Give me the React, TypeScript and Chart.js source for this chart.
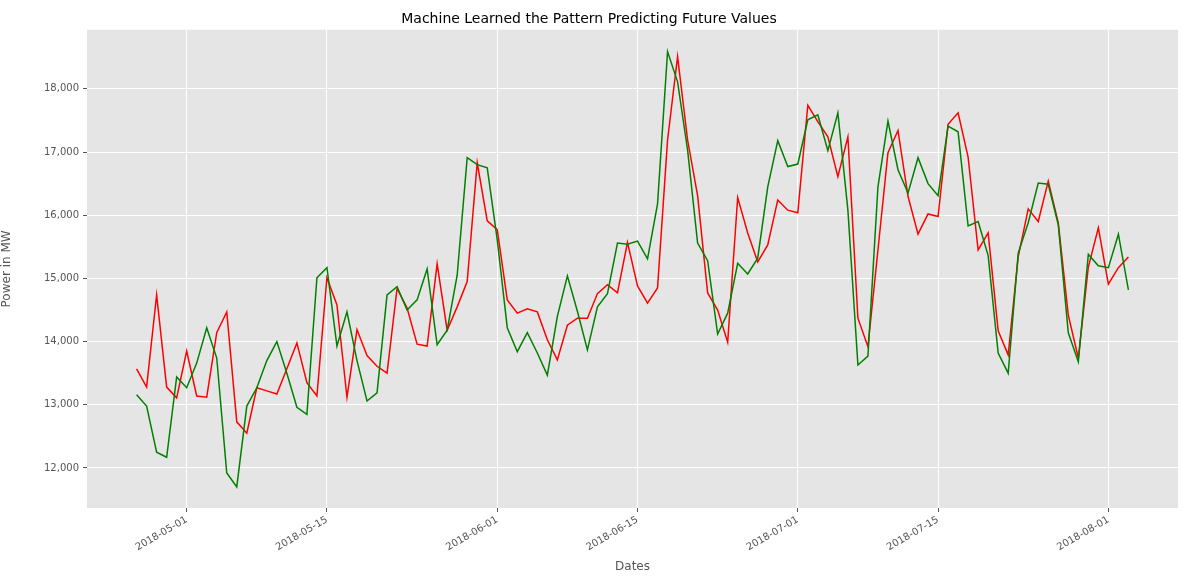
import { useEffect, useRef } from 'react';
import { Chart, registerables } from 'chart.js';

Chart.register(...registerables);

// day index 0 = 2018-04-26
const startDate = new Date(Date.UTC(2018, 3, 26));
const tickDays = [5, 19, 36, 50, 66, 80, 97];

const actualValues = [
  13160, 12980, 12250, 12170, 13440, 13270, 13660, 14220, 13740, 11920,
  11700, 12980, 13270, 13700, 14000, 13500, 12960, 12850, 15010, 15170,
  13930, 14470, 13700, 13060, 13190, 14740, 14870, 14500, 14660, 15150,
  13950, 14180, 15050, 16910, 16800, 16750, 15610, 14220, 13840, 14140,
  13820, 13470, 14400, 15040, 14480, 13870, 14550, 14760, 15560, 15540,
  15590, 15310, 16180, 18590, 18110, 17030, 15560, 15280, 14120, 14450,
  15240, 15070, 15320, 16450, 17180, 16770, 16810, 17510, 17590, 17020,
  17620, 16080, 13630, 13770, 16450, 17490, 16720, 16350, 16910, 16500,
  16310, 17410, 17320, 15830, 15900, 15360, 13820, 13500, 15400, 15880,
  16510, 16490, 15850, 14140, 13680, 15380, 15200, 15170, 15700, 14820,
];

const predictedValues = [
  13570, 13280, 14740, 13280, 13110, 13850, 13140, 13120, 14140, 14470,
  12730, 12550, 13270, 13220, 13170, 13570, 13980, 13350, 13140, 15010,
  14580, 13120, 14190, 13780, 13610, 13500, 14840, 14530, 13960, 13930,
  15230, 14180, 14550, 14950, 16830, 15910, 15770, 14660, 14450, 14520,
  14470, 14030, 13710, 14260, 14370, 14370, 14760, 14900, 14770, 15570,
  14880, 14610, 14850, 17190, 18510, 17190, 16310, 14770, 14500, 13990,
  16280, 15720, 15260, 15530, 16240, 16080, 16040, 17740, 17480, 17240,
  16610, 17240, 14370, 13920, 15450, 16990, 17340, 16300, 15700, 16020,
  15980, 17440, 17620, 16920, 15450, 15720, 14170, 13790, 15340, 16100,
  15900, 16540, 15880, 14420, 13740, 15180, 15800, 14910, 15170, 15340,
];

const yTicks = [12000, 13000, 14000, 15000, 16000, 17000, 18000];

const dayLabel = (d: number) => {
  const dt = new Date(startDate.getTime() + d * 86400000);
  return dt.toISOString().slice(0, 10);
};

const bgPlugin = {
  id: 'plotBg',
  beforeDraw: (chart: Chart) => {
    const { ctx, chartArea } = chart;
    ctx.save();
    ctx.fillStyle = '#E5E5E5';
    ctx.fillRect(chartArea.left, chartArea.top, chartArea.right - chartArea.left, chartArea.bottom - chartArea.top);
    ctx.restore();
  },
};

const App = () => {
  const canvasRef = useRef<HTMLCanvasElement | null>(null);

  useEffect(() => {
    if (!canvasRef.current) return;
    const toPoints = (arr: number[]) => arr.map((v, i) => ({ x: i, y: v }));
    const chart = new Chart(canvasRef.current, {
      type: 'line',
      data: {
        datasets: [
          { label: 'Actual', data: toPoints(actualValues), borderColor: 'green', borderWidth: 1.5, pointRadius: 0, tension: 0 },
          { label: 'Predicted', data: toPoints(predictedValues), borderColor: 'red', borderWidth: 1.5, pointRadius: 0, tension: 0 },
        ],
      },
      options: {
        animation: false,
        responsive: false,
        layout: { padding: { right: 17 } },
        plugins: {
          legend: { display: false },
          tooltip: { enabled: false },
          title: {
            display: true,
            text: 'Machine Learned the Pattern Predicting Future Values',
            color: '#000',
            font: { family: 'DejaVu Sans', size: 14, weight: 'normal' },
            padding: { top: 11, bottom: 2 },
          },
        },
        scales: {
          x: {
            type: 'linear',
            min: -4.95,
            max: 103.95,
            afterBuildTicks: (s: any) => { s.ticks = tickDays.map((v) => ({ value: v })); },
            afterFit: (s: any) => { s.height = 72; },
            ticks: {
              callback: (v: any) => dayLabel(Number(v)),
              maxRotation: 30,
              minRotation: 30,
              color: '#555',
              font: { family: 'DejaVu Sans', size: 10 },
              padding: 2,
            },
            grid: { color: '#fff', lineWidth: 1, tickLength: 4, tickColor: '#555' },
            border: { display: false },
            title: { display: true, text: 'Dates', color: '#555', font: { family: 'DejaVu Sans', size: 12 }, padding: { top: 0, bottom: 6 } },
          },
          y: {
            type: 'linear',
            min: 11367,
            max: 18934,
            afterBuildTicks: (s: any) => { s.ticks = yTicks.map((v) => ({ value: v })); },
            afterFit: (s: any) => { s.width = 87; },
            ticks: { color: '#555', font: { family: 'DejaVu Sans', size: 10 }, padding: 4 },
            grid: { color: '#fff', lineWidth: 1, tickLength: 4, tickColor: '#555' },
            border: { display: false },
            title: { display: true, text: 'Power in MW', color: '#555', font: { family: 'DejaVu Sans', size: 12 }, padding: { top: 0, bottom: 0 } },
          },
        },
      },
      plugins: [bgPlugin],
    });
    return () => chart.destroy();
  }, []);

  return (
    <div style={{ position: 'absolute', left: 0, top: 0, width: 1195, height: 580, background: '#fff' }}>
      <canvas ref={canvasRef} width={1195} height={580} style={{ width: 1195, height: 580 }} />
    </div>
  );
};

export default App;
